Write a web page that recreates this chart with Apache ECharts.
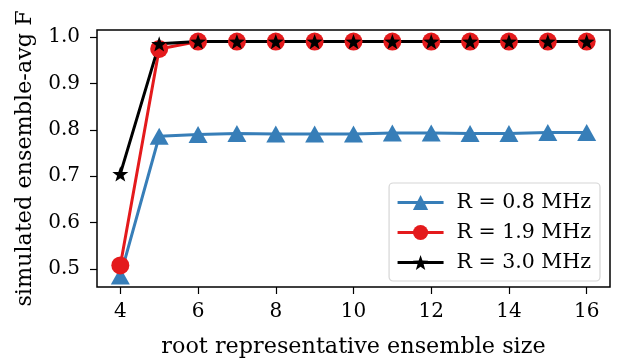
<!DOCTYPE html>
<html>
<head>
<meta charset="utf-8">
<script src="https://cdn.jsdelivr.net/npm/echarts@6/dist/echarts.min.js"></script>
<style>
  html, body { margin: 0; padding: 0; background: #fff; }
  #chart { width: 623px; height: 363px; }
</style>
</head>
<body>
<div id="chart"></div>
<script>
// Ensemble sizes on the x axis
const ensembleSizes = [4, 5, 6, 7, 8, 9, 10, 11, 12, 13, 14, 15, 16];

// Simulated ensemble-averaged F for each readout rate
const fidelity08 = [0.485, 0.786, 0.790, 0.792, 0.791, 0.791, 0.791, 0.793, 0.793, 0.792, 0.792, 0.794, 0.794];
const fidelity19 = [0.508, 0.974, 0.990, 0.990, 0.990, 0.990, 0.990, 0.990, 0.990, 0.990, 0.990, 0.990, 0.990];
const fidelity30 = [0.705, 0.985, 0.990, 0.990, 0.990, 0.990, 0.990, 0.990, 0.990, 0.990, 0.990, 0.990, 0.990];

const seriesNames = ['R = 0.8 MHz', 'R = 1.9 MHz', 'R = 3.0 MHz'];

// Tick positions
const xTicks = [4, 6, 8, 10, 12, 14, 16];
const yTicks = [0.5, 0.6, 0.7, 0.8, 0.9, 1.0];

const FONT = '"DejaVu Serif", "Liberation Serif", serif';
const FS_TICK = 20;
const FS_NAME = 22.3;
const FS_LEGEND = 20.5;
const STAR = 'path://M0,-10 L2.35,-3.24 L9.51,-3.09 L3.8,1.24 L5.88,8.09 L0,4.2 L-5.88,8.09 L-3.8,1.24 L-9.51,-3.09 L-2.35,-3.24 Z';

const pairs = (ys) => ensembleSizes.map((x, i) => [x, ys[i]]);

const chart = echarts.init(document.getElementById('chart'), null, { renderer: 'canvas' });

chart.setOption({
  animation: false,
  backgroundColor: '#fff',
  grid: {
    left: 97, right: 13, top: 30, bottom: 74,
    show: true, borderColor: '#000', borderWidth: 1.5, backgroundColor: 'transparent'
  },
  xAxis: {
    type: 'value',
    min: 3.4, max: 16.6,
    name: 'root representative ensemble size',
    nameLocation: 'middle',
    nameGap: 49,
    nameTextStyle: { fontFamily: FONT, fontSize: FS_NAME, color: '#000' },
    axisLine: { show: false },
    splitLine: { show: false },
    axisTick: { show: true, length: 7, lineStyle: { color: '#000', width: 1.2 }, customValues: xTicks },
    axisLabel: { fontFamily: FONT, fontSize: FS_TICK, color: '#000', margin: 15, customValues: xTicks }
  },
  yAxis: {
    type: 'value',
    min: 0.4615, max: 1.0148,
    name: 'simulated ensemble-avg F',
    nameLocation: 'middle',
    nameGap: 61,
    nameTextStyle: { fontFamily: FONT, fontSize: FS_NAME, color: '#000' },
    axisLine: { show: false },
    splitLine: { show: false },
    axisTick: { show: true, length: 7, lineStyle: { color: '#000', width: 1.2 }, customValues: yTicks },
    axisLabel: {
      fontFamily: FONT, fontSize: FS_TICK, color: '#000', margin: 17,
      customValues: yTicks,
      formatter: (v) => v.toFixed(1)
    }
  },
  legend: {
    right: 23, top: 183,
    orient: 'vertical',
    itemWidth: 46, itemHeight: 19, itemGap: 9,
    padding: [9, 9, 8, 7],
    backgroundColor: '#fff',
    borderColor: '#d6d6d6', borderWidth: 1.2, borderRadius: 4,
    lineStyle: { width: 3 },
    textStyle: { fontFamily: FONT, fontSize: FS_LEGEND, color: '#000', padding: [0, 0, 0, 8] },
    data: seriesNames
  },
  series: [
    {
      name: seriesNames[0], type: 'line', data: pairs(fidelity08),
      color: '#377eb8', lineStyle: { width: 3 },
      symbol: 'triangle', symbolSize: [19, 17], showAllSymbol: true,
      itemStyle: { color: '#377eb8' }, clip: true
    },
    {
      name: seriesNames[1], type: 'line', data: pairs(fidelity19),
      color: '#e41a1c', lineStyle: { width: 3 },
      symbol: 'circle', symbolSize: 18, showAllSymbol: true,
      itemStyle: { color: '#e41a1c' }, clip: true
    },
    {
      name: seriesNames[2], type: 'line', data: pairs(fidelity30),
      color: '#000', lineStyle: { width: 3 },
      symbol: STAR, symbolKeepAspect: true, symbolSize: 16, showAllSymbol: true,
      itemStyle: { color: '#000' }, clip: true
    }
  ]
});
</script>
</body>
</html>
